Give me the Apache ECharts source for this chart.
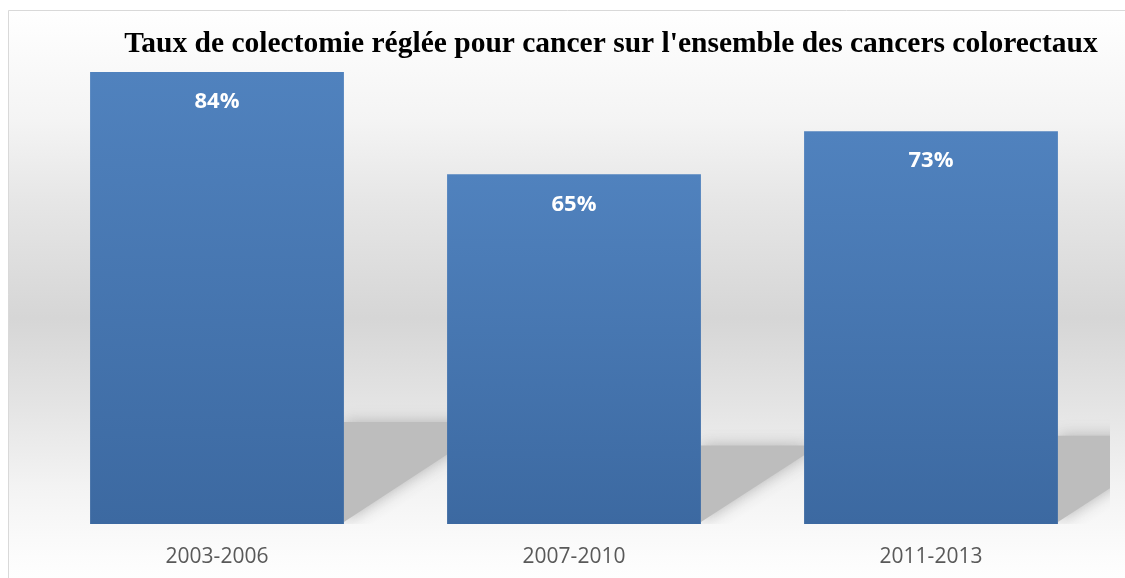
<!DOCTYPE html>
<html>
<head>
<meta charset="utf-8">
<style>
  html, body { margin: 0; padding: 0; background: #fff; }
  #main { width: 1125px; height: 578px; }
</style>
<script src="https://cdn.jsdelivr.net/npm/echarts@6/dist/echarts.min.js"></script>
</head>
<body>
<div id="main"></div>
<script>
(function() {
    var myChart = echarts.init(document.getElementById("main"));

    // périodes et taux (%)
    var periods = ['2003-2006', '2007-2010', '2011-2013'];
    var rates = [84, 65, 73];

    var barRatio = 0.711;   // largeur de barre / largeur de catégorie
    var shadowRatio = 0.23; // hauteur de l'ombre / hauteur de barre
    var shadowSlope = 0.68;

    var option = {
        backgroundColor: '#fff',
        animation: false,
        title: {
            text: "Taux de colectomie réglée pour cancer sur l'ensemble des cancers colorectaux",
            left: 606,
            textAlign: 'center',
            top: 24,
            textStyle: {
                fontFamily: '"Liberation Serif", "Times New Roman", serif',
                fontWeight: 'bold',
                fontSize: 29.5,
                color: '#000'
            }
        },
        graphic: [{
            type: 'rect',
            z: -10,
            silent: true,
            shape: { x: 8.5, y: 10.5, width: 1130, height: 580 },
            style: {
                stroke: '#d9d9d9',
                lineWidth: 1,
                fill: new echarts.graphic.LinearGradient(0, 0, 0, 1, [
                    { offset: 0, color: '#ffffff' },
                    { offset: 0.05, color: '#fcfcfc' },
                    { offset: 0.19, color: '#f4f4f4' },
                    { offset: 0.33, color: '#e6e6e6' },
                    { offset: 0.53, color: '#d6d6d6' },
                    { offset: 0.68, color: '#e4e4e4' },
                    { offset: 0.82, color: '#f3f3f3' },
                    { offset: 0.94, color: '#fcfcfc' },
                    { offset: 1, color: '#ffffff' }
                ])
            }
        }],
        grid: {
            left: 38.5,
            right: 15.5,
            top: 72,
            bottom: 54
        },
        xAxis: {
            type: 'category',
            data: periods,
            axisLine: { show: false },
            axisTick: { show: false },
            axisLabel: {
                margin: 23,
                fontFamily: '"Open Sans", sans-serif',
                fontSize: 21,
                color: '#595959'
            }
        },
        yAxis: {
            type: 'value',
            min: 0,
            max: 84,
            show: false,
            splitLine: { show: false }
        },
        series: [{
            // ombres portées derrière les barres
            type: 'custom',
            z: 1,
            clip: true,
            silent: true,
            data: rates.map(function(v, i) { return [i, v]; }),
            renderItem: function(params, api) {
                var i = api.value(0);
                var base = api.coord([i, 0]);
                var top = api.coord([i, api.value(1)]);
                var half = api.size([1, 0])[0] * barRatio / 2;
                var xr = base[0] + half;
                var h = (base[1] - top[1]) * shadowRatio;
                return {
                    type: 'polygon',
                    shape: {
                        points: [
                            [xr, base[1] - 2],
                            [xr, base[1] - h + 2],
                            [xr + h / shadowSlope, base[1] - h + 2]
                        ]
                    },
                    style: {
                        fill: '#bdbdbd',
                        shadowBlur: 16,
                        shadowColor: 'rgba(170,170,170,0.9)'
                    }
                };
            }
        }, {
            name: 'Taux',
            type: 'bar',
            z: 3,
            data: rates,
            barWidth: (barRatio * 100) + '%',
            itemStyle: {
                color: new echarts.graphic.LinearGradient(0, 0, 0, 1, [
                    { offset: 0, color: '#5082be' },
                    { offset: 1, color: '#3c69a1' }
                ])
            },
            label: {
                show: true,
                position: 'insideTop',
                distance: 19,
                formatter: '{c}%',
                fontFamily: '"Open Sans", sans-serif',
                fontWeight: 'bold',
                fontSize: 22,
                color: '#fff'
            }
        }]
    };

    myChart.setOption(option);
    window.addEventListener("resize", function() {
        myChart.resize();
    });
})();
</script>
</body>
</html>
